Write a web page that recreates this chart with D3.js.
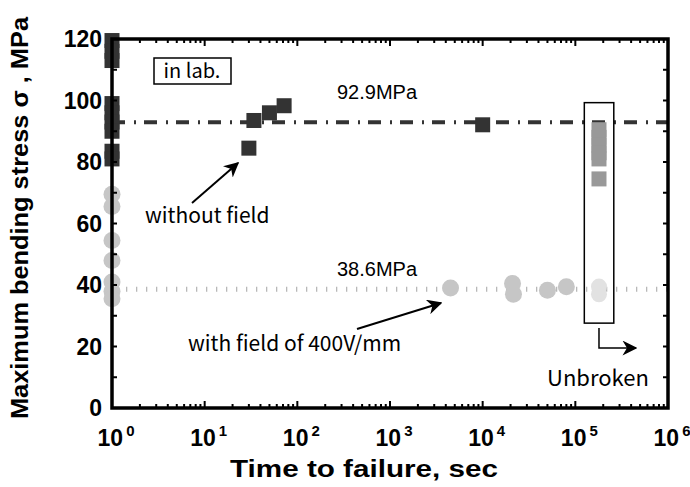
<!DOCTYPE html>
<html>
<head>
<meta charset="utf-8">
<script src="https://cdn.jsdelivr.net/npm/d3@7"></script>
<style>
  body { margin: 0; background: #fff; }
  svg { display: block; }
</style>
</head>
<body>
<div id="chart"></div>
<script>
// without field (dark squares)
const darkX = [1, 1, 1, 1, 1, 1, 1, 1, 1, 30, 34, 50, 72, 10000];
const darkY = [119.5, 116, 113, 99, 96, 93, 90, 83.5, 81, 84.5, 93.5, 96, 98.3, 92.1];
// without field, unbroken (gray squares)
const unbrokenSqX = [1.8e5, 1.8e5, 1.8e5, 1.8e5, 1.8e5, 1.8e5];
const unbrokenSqY = [90.5, 88, 85.5, 83, 81, 74.5];
// with field of 400V/mm (light circles)
const fieldX = [1, 1, 1, 1, 1, 1, 1, 4500, 21000, 21500, 50000, 80000];
const fieldY = [69.5, 65.5, 54.5, 48, 41, 38, 35.5, 39, 40.5, 37, 38.3, 39.4];
// with field, unbroken
const unbrokenCirX = [1.8e5, 1.8e5];
const unbrokenCirY = [39.5, 37];

const meanNoField = 92.9;
const meanField = 38.6;
const xTicks = [1, 10, 100, 1000, 10000, 100000, 1000000];
const yTicks = [0, 20, 40, 60, 80, 100, 120];

const width = 690, height = 487;
const margin = { top: 39, right: 22, bottom: 79, left: 112 };

const svg = d3.select("#chart").append("svg")
    .attr("width", width)
    .attr("height", height);

const x = d3.scaleLog().domain([1, 1e6]).range([margin.left, width - margin.right]);
const y = d3.scaleLinear().domain([0, 120]).range([height - margin.bottom, margin.top]);

const x0 = x.range()[0], x1 = x.range()[1];
const y0 = y.range()[0], y1 = y.range()[1];

// mean lines
svg.append("line")
    .attr("x1", x0).attr("x2", x1)
    .attr("y1", y(meanNoField)).attr("y2", y(meanNoField))
    .attr("stroke", "#333").attr("stroke-width", 4)
    .attr("stroke-dasharray", "13 9 2 8");

svg.append("line")
    .attr("x1", x0 + 4).attr("x2", x1)
    .attr("y1", y(meanField)).attr("y2", y(meanField))
    .attr("stroke", "#b8b8b8").attr("stroke-width", 5)
    .attr("stroke-dasharray", "1.3 8.7");

// unbroken box
svg.append("rect")
    .attr("x", x(1.25e5)).attr("y", y(99.3))
    .attr("width", x(2.6e5) - x(1.25e5))
    .attr("height", y(27.6) - y(99.3))
    .attr("fill", "none").attr("stroke", "#000").attr("stroke-width", 1.5);

// points
const sq = 15;
svg.append("g").selectAll("rect")
    .data(d3.zip(unbrokenSqX, unbrokenSqY))
    .join("rect")
    .attr("x", d => x(d[0]) - sq / 2).attr("y", d => y(d[1]) - sq / 2)
    .attr("width", sq).attr("height", sq)
    .attr("fill", "#999");

svg.append("g").selectAll("rect")
    .data(d3.zip(darkX, darkY))
    .join("rect")
    .attr("x", d => x(d[0]) - sq / 2).attr("y", d => y(d[1]) - sq / 2)
    .attr("width", sq).attr("height", sq)
    .attr("fill", "#333");

svg.append("g").selectAll("circle")
    .data(d3.zip(fieldX, fieldY))
    .join("circle")
    .attr("cx", d => x(d[0])).attr("cy", d => y(d[1]))
    .attr("r", 8.5)
    .attr("fill", "#c6c6c6");

svg.append("g").selectAll("circle")
    .data(d3.zip(unbrokenCirX, unbrokenCirY))
    .join("circle")
    .attr("cx", d => x(d[0])).attr("cy", d => y(d[1]))
    .attr("r", 8)
    .attr("fill", "#e2e2e2");

// ticks (inward on all four sides)
const minor = [];
for (let e = 0; e < 6; e++) for (let k = 2; k <= 9; k++) minor.push(k * Math.pow(10, e));
const tk = svg.append("g").attr("stroke", "#000").attr("stroke-width", 2);
xTicks.forEach(v => {
    tk.append("line").attr("x1", x(v)).attr("x2", x(v)).attr("y1", y0).attr("y2", y0 - 7);
    tk.append("line").attr("x1", x(v)).attr("x2", x(v)).attr("y1", y1).attr("y2", y1 + 7);
});
minor.forEach(v => {
    tk.append("line").attr("x1", x(v)).attr("x2", x(v)).attr("y1", y0).attr("y2", y0 - 4);
    tk.append("line").attr("x1", x(v)).attr("x2", x(v)).attr("y1", y1).attr("y2", y1 + 4);
});
d3.range(0, 121, 10).forEach(v => {
    tk.append("line").attr("x1", x0).attr("x2", x0 + 5).attr("y1", y(v)).attr("y2", y(v));
    tk.append("line").attr("x1", x1).attr("x2", x1 - 5).attr("y1", y(v)).attr("y2", y(v));
});

// frame
svg.append("rect")
    .attr("x", x0).attr("y", y1)
    .attr("width", x1 - x0).attr("height", y0 - y1)
    .attr("fill", "none").attr("stroke", "#000").attr("stroke-width", 3.5);

// tick labels
const labelFont = "Liberation Sans, Arial, sans-serif";
svg.append("g").selectAll("text")
    .data(yTicks)
    .join("text")
    .attr("x", x0 - 10).attr("y", d => y(d) + 8)
    .attr("text-anchor", "end")
    .attr("font-family", labelFont).attr("font-weight", "bold").attr("font-size", 23)
    .text(d => d);

const xl = svg.append("g").selectAll("text")
    .data(xTicks)
    .join("text")
    .attr("x", d => x(d) + 4).attr("y", y0 + 38)
    .attr("text-anchor", "middle")
    .attr("font-family", labelFont).attr("font-weight", "bold").attr("font-size", 23);
xl.append("tspan").text("10");
xl.append("tspan").attr("dx", 3).attr("dy", -10).attr("font-size", 15)
    .text(d => Math.round(Math.log10(d)));

// axis titles
svg.append("text")
    .attr("x", 364).attr("y", 477)
    .attr("text-anchor", "middle")
    .attr("font-family", labelFont).attr("font-weight", "bold").attr("font-size", 23)
    .attr("textLength", 268).attr("lengthAdjust", "spacingAndGlyphs")
    .text("Time to failure, sec");

svg.append("text")
    .attr("transform", `translate(28, 218) rotate(-90)`)
    .attr("text-anchor", "middle")
    .attr("font-family", labelFont).attr("font-weight", "bold").attr("font-size", 23)
    .attr("textLength", 402).attr("lengthAdjust", "spacingAndGlyphs")
    .text("Maximum bending stress σ , MPa");

// annotations
const noteFont = "Noto Sans CJK JP, Noto Sans, sans-serif";
function note(tx, ty, str, size, anchor) {
    return svg.append("text")
        .attr("x", tx).attr("y", ty)
        .attr("text-anchor", anchor || "start")
        .attr("font-family", noteFont).attr("font-size", size)
        .text(str);
}

svg.append("defs").append("marker")
    .attr("id", "arrow")
    .attr("viewBox", "0 -5 10 10")
    .attr("refX", 9).attr("refY", 0)
    .attr("markerWidth", 15).attr("markerHeight", 15)
    .attr("markerUnits", "userSpaceOnUse")
    .attr("orient", "auto")
    .append("path")
    .attr("d", "M0,-5L10,0L0,5L3,0Z")
    .attr("fill", "#000");

function arrow(ax, ay, bx, by) {
    svg.append("line")
        .attr("x1", ax).attr("y1", ay).attr("x2", bx).attr("y2", by)
        .attr("stroke", "#000").attr("stroke-width", 2)
        .attr("marker-end", "url(#arrow)");
}

svg.append("text")
    .attr("x", 337).attr("y", 99)
    .attr("font-family", labelFont).attr("font-size", 20)
    .text("92.9MPa");
svg.append("text")
    .attr("x", 337).attr("y", 276)
    .attr("font-family", labelFont).attr("font-size", 20)
    .text("38.6MPa");
note(145, 223, "without field", 21);
note(188, 351, "with field of 400V/mm", 21);
note(598, 386, "Unbroken", 22, "middle");

arrow(192, 203, 238, 163);
arrow(357, 329, 441, 303);

// unbroken bracket
const bx = x(1.8e5);
svg.append("path")
    .attr("d", `M${bx},${y(26)}V${y(19.5)}H${bx + 37}`)
    .attr("fill", "none").attr("stroke", "#000").attr("stroke-width", 1.5)
    .attr("marker-end", "url(#arrow)");

// in lab. box
svg.append("rect")
    .attr("x", 154).attr("y", 58).attr("width", 77).attr("height", 26)
    .attr("fill", "#fff").attr("stroke", "#000").attr("stroke-width", 1.5);
note(192, 78, "in lab.", 20, "middle");
</script>
</body>
</html>
